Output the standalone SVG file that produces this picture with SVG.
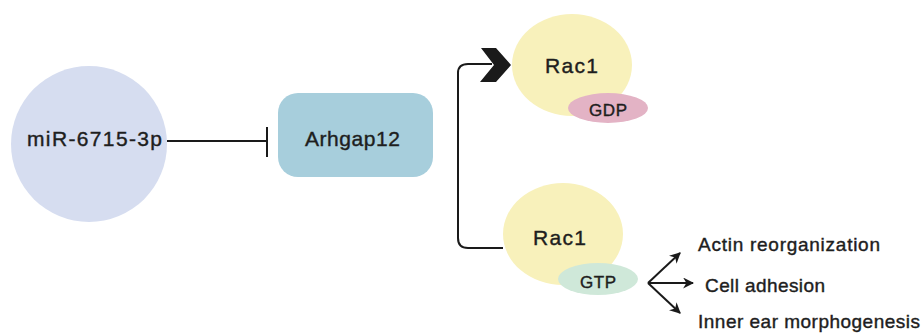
<svg xmlns="http://www.w3.org/2000/svg" width="922" height="334" viewBox="0 0 922 334">
<defs>
<style>
text{font-family:"Liberation Sans",Arial,sans-serif;fill:#1e1e1e;stroke:#1e1e1e;stroke-width:0.4}
.big{font-size:21px}
.small{font-size:17px}
.lbl{font-size:19px}
.ln{fill:none;stroke:#1a1a1a;stroke-width:2}
</style>
<marker id="ah" viewBox="0 0 10 10" refX="9" refY="5" markerWidth="5.5" markerHeight="5.5" orient="auto" markerUnits="strokeWidth">
<path d="M0,0 L10,5 L0,10 L3,5 Z" fill="#1a1a1a"/>
</marker>
</defs>
<rect width="922" height="334" fill="#ffffff"/>
<g id="connectors">
<line class="ln" x1="167" y1="141" x2="267" y2="141"/>
<line class="ln" x1="267" y1="127" x2="267" y2="157"/>
<path class="ln" d="M503,248 H468 Q458,248 458,238 V73 Q458,64 468,64 H492"/>
<polygon points="481,48 496,48 511,65 496,82 480,82 494,65" fill="#1a1a1a"/>
<line class="ln" x1="648" y1="283" x2="680" y2="253" marker-end="url(#ah)"/>
<line class="ln" x1="648" y1="283" x2="693" y2="283" marker-end="url(#ah)"/>
<line class="ln" x1="648" y1="283" x2="680" y2="313" marker-end="url(#ah)"/>
</g>
<g id="mir">
<circle cx="89" cy="144" r="78" fill="#d6ddf0"/>
<text class="big" x="27" y="146" textLength="135" lengthAdjust="spacing">miR-6715-3p</text>
</g>
<g id="arhgap12">
<rect x="278" y="93" width="155" height="84" rx="20" fill="#a7cedc"/>
<text class="big" x="305" y="146" textLength="95" lengthAdjust="spacing">Arhgap12</text>
</g>
<g id="rac1-gdp">
<ellipse cx="572" cy="65" rx="60" ry="51" fill="#f8f1bb"/>
<ellipse cx="608" cy="108" rx="40" ry="15" fill="#e3b3c5"/>
<text class="big" x="545" y="73" textLength="53" lengthAdjust="spacing">Rac1</text>
<text class="small" x="589" y="116" textLength="38" lengthAdjust="spacing">GDP</text>
</g>
<g id="rac1-gtp">
<ellipse cx="563" cy="234" rx="60" ry="51" fill="#f8f1bb"/>
<ellipse cx="598" cy="279" rx="40" ry="16" fill="#cfe8d9"/>
<text class="big" x="533" y="245" textLength="53" lengthAdjust="spacing">Rac1</text>
<text class="small" x="580" y="288" textLength="36" lengthAdjust="spacing">GTP</text>
</g>
<g id="actin">
<text class="lbl" x="698" y="251" textLength="182" lengthAdjust="spacing">Actin reorganization</text>
</g>
<g id="adhesion">
<text class="lbl" x="705" y="292" textLength="120" lengthAdjust="spacing">Cell adhesion</text>
</g>
<g id="inner-ear">
<text class="lbl" x="698" y="328" textLength="222" lengthAdjust="spacing">Inner ear morphogenesis</text>
</g>
</svg>
